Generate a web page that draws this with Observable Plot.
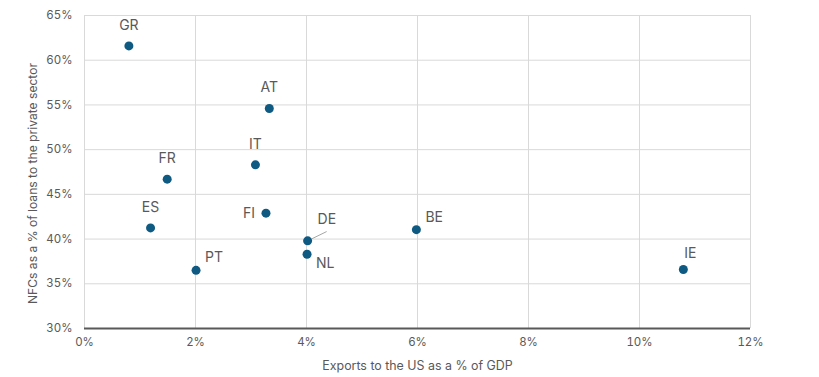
<!DOCTYPE html>
<html><head><meta charset="utf-8">
<script src="https://cdn.jsdelivr.net/npm/d3@7"></script>
<script src="https://cdn.jsdelivr.net/npm/@observablehq/plot@0.6"></script>
<style>body{margin:0;background:#fff}</style>
</head><body><div id="chart"></div>
<script>
const countries = ["GR","AT","IT","FR","ES","FI","DE","NL","PT","BE","IE"];
const exportsToUS = [0.80,3.33,3.08,1.49,1.19,3.27,4.02,4.01,2.01,5.98,10.79];
const nfcShare = [61.6,54.6,48.3,46.7,41.25,42.9,39.8,38.3,36.5,41.05,36.6];
const xTicks = [0,2,4,6,8,10,12];
const yTicks = [30,35,40,45,50,55,60,65];
const xTitle = "Exports to the US as a % of GDP";
const yTitle = "NFCs as a % of loans to the private sector";
const placement = {GR:"above",AT:"above",IT:"above",FR:"above",ES:"above",IE:"aboveRight",FI:"left",DE:"leader",NL:"belowRight",PT:"right",BE:"right"};

const data = countries.map((c,i)=>({country:c, x:exportsToUS[i], y:nfcShare[i], pos:placement[c]}));
const grey = "#595959";
const lblFont = 14;
const lbl = (pos, opts) => Plot.text(data.filter(d=>d.pos===pos), {x:"x", y:"y", text:"country", fill:grey, fontSize:lblFont, ...opts});

const chart = Plot.plot({
  width: 819, height: 377,
  marginLeft: 84, marginRight: 69, marginTop: 15, marginBottom: 49,
  style: {fontFamily: "Inter, 'Noto Sans', sans-serif", fontSize: "11px", color: grey, background: "#fff"},
  x: {domain: [0, 12]},
  y: {domain: [30, 65]},
  marks: [
    Plot.ruleX(xTicks, {stroke: "#d9d9d9", strokeWidth: 1}),
    Plot.ruleY(yTicks.filter(t=>t>30), {stroke: "#d9d9d9", strokeWidth: 1}),
    Plot.ruleY([30], {stroke: grey, strokeWidth: 2}),
    Plot.axisX({ticks: xTicks, tickFormat: d=>d+"%", tickSize: 0, tickPadding: 9, label: null, fontSize: 11.5}),
    Plot.axisY({ticks: yTicks, tickFormat: d=>d+"%", tickSize: 0, tickPadding: 12, label: null, fontSize: 11.5}),
    Plot.text([xTitle], {text: d=>d, frameAnchor: "bottom", textAnchor: "middle", lineAnchor: "middle", dy: 37.5, fill: grey, fontSize: 12.4}),
    Plot.text([yTitle], {text: d=>d, frameAnchor: "left", textAnchor: "middle", lineAnchor: "middle", dx: -51, dy: 11.5, rotate: -90, fill: grey, fontSize: 12.1}),
    Plot.link(data.filter(d=>d.pos==="leader"), {x1:"x", y1:"y", x2: d=>d.x+0.343, y2: d=>d.y+1.04, stroke:"#a6a6a6", strokeWidth:1}),
    Plot.dot(data, {x:"x", y:"y", r:4.5, fill:"#0f5a82"}),
    lbl("above", {dy:-20.5}),
    lbl("aboveRight", {dx:7, dy:-16}),
    lbl("left", {dx:-11, textAnchor:"end"}),
    lbl("leader", {dx:10, dy:-21, textAnchor:"start"}),
    lbl("belowRight", {dx:9, dy:9, textAnchor:"start"}),
    lbl("right", {dx:9, dy:-12.5, textAnchor:"start"})
  ]
});
document.getElementById("chart").append(chart);
</script>
</body></html>
